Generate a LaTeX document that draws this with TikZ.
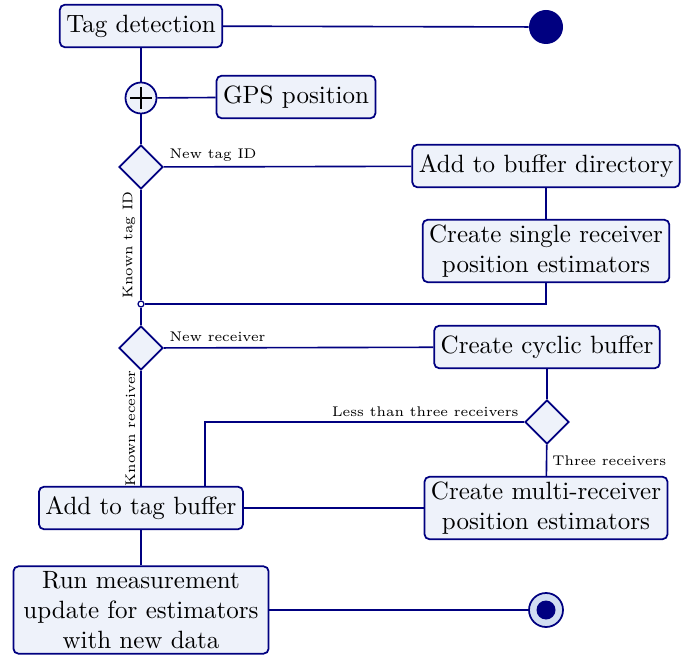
\documentclass[tikz,border=0pt]{standalone}
\usepackage{amsmath}
\usetikzlibrary{positioning,shapes.geometric,calc}
\definecolor{navy}{HTML}{000080}
\definecolor{boxfill}{HTML}{EEF2FA}
\definecolor{ringfill}{HTML}{D2DEF2}

\begin{document}
\begin{tikzpicture}[x=0.4pt,y=-0.4pt,
    act/.style={draw=navy,line width=0.7pt,fill=boxfill,rounded corners=2pt,
      inner xsep=2.6pt,inner ysep=2pt,minimum height=17pt,align=center},
    choice/.style={diamond,draw=navy,line width=0.7pt,fill=boxfill,
      inner sep=0pt,minimum size=17.6pt},
    flow/.style={draw=navy,line width=0.65pt},
    lbl/.style={font=\fontsize{5.6}{6.7}\selectfont,inner sep=2pt}]
      \useasboundingbox (0,0) rectangle (698,657);
      % nodes
      \node[act] (detect) at (141,26) {Tag detection};
      \node[circle,fill=navy,minimum size=13.6pt,inner sep=0pt] (stop) at (546,27) {};
      \node[circle,draw=navy,line width=0.7pt,fill=boxfill,minimum size=12.4pt,inner sep=0pt,
        path picture={\draw[black,line width=0.9pt] (path picture bounding box.center) +(-4.4pt,0) -- +(4.4pt,0)
          (path picture bounding box.center) +(0,-4.4pt) -- +(0,4.4pt);}] (merge) at (141,98) {};
      \node[act] (gps) at (296,97) {GPS position};
      \node[choice] (newtag) at (141,167) {};
      \node[act] (bufdir) at (546,166) {Add to buffer directory};
      \node[act] (single) at (546,251) {Create single receiver\\position estimators};
      \node[circle,draw=navy,line width=0.5pt,fill=white,minimum size=2.4pt,inner sep=0pt] (join) at (141,304) {};
      \node[choice] (newrec) at (141,348) {};
      \node[act] (cyclic) at (547,347) {Create cyclic buffer};
      \node[choice] (count) at (547,422) {};
      \node[act] (multi) at (546,508) {Create multi-receiver\\position estimators};
      \node[act] (tagbuf) at (141,508) {Add to tag buffer};
      \node[act,inner xsep=4pt] (run) at (141,610) {Run measurement\\update for estimators\\with new data};
      \node[circle,draw=navy,line width=0.7pt,fill=ringfill,minimum size=13.6pt,inner sep=0pt,
        path picture={\fill[navy] (path picture bounding box.center) circle (3.8pt);}] (final) at (546,610) {};
      % connectors
      \draw[flow] (detect) -- (stop);
      \draw[flow] (detect) -- (merge);
      \draw[flow] (merge) -- (gps);
      \draw[flow] (merge) -- (newtag);
      \draw[flow] (newtag) -- node[lbl,pos=0,anchor=south west] {New tag ID} (bufdir);
      \draw[flow] (bufdir) -- (single);
      \draw[flow] (single.south) |- (join);
      \draw[flow] (join) -- node[lbl,midway,sloped,above] {Known tag ID} (newtag);
      \draw[flow] (join) -- (newrec);
      \draw[flow] (newrec) -- node[lbl,pos=0,anchor=south west] {New receiver} (cyclic);
      \draw[flow] (cyclic) -- (count);
      \draw[flow] (count) -- node[lbl,midway,right] {Three receivers} (multi);
      \draw[flow] (count) -| node[lbl,pos=0,anchor=south east] {Less than three receivers} ([xshift=25.6pt]tagbuf.north);
      \draw[flow] (tagbuf) -- node[lbl,midway,sloped,above] {Known receiver} (newrec);
      \draw[flow] (multi) -- (tagbuf);
      \draw[flow] (tagbuf) -- (run);
      \draw[flow] (run) -- (final);
    \end{tikzpicture}
\end{document}
